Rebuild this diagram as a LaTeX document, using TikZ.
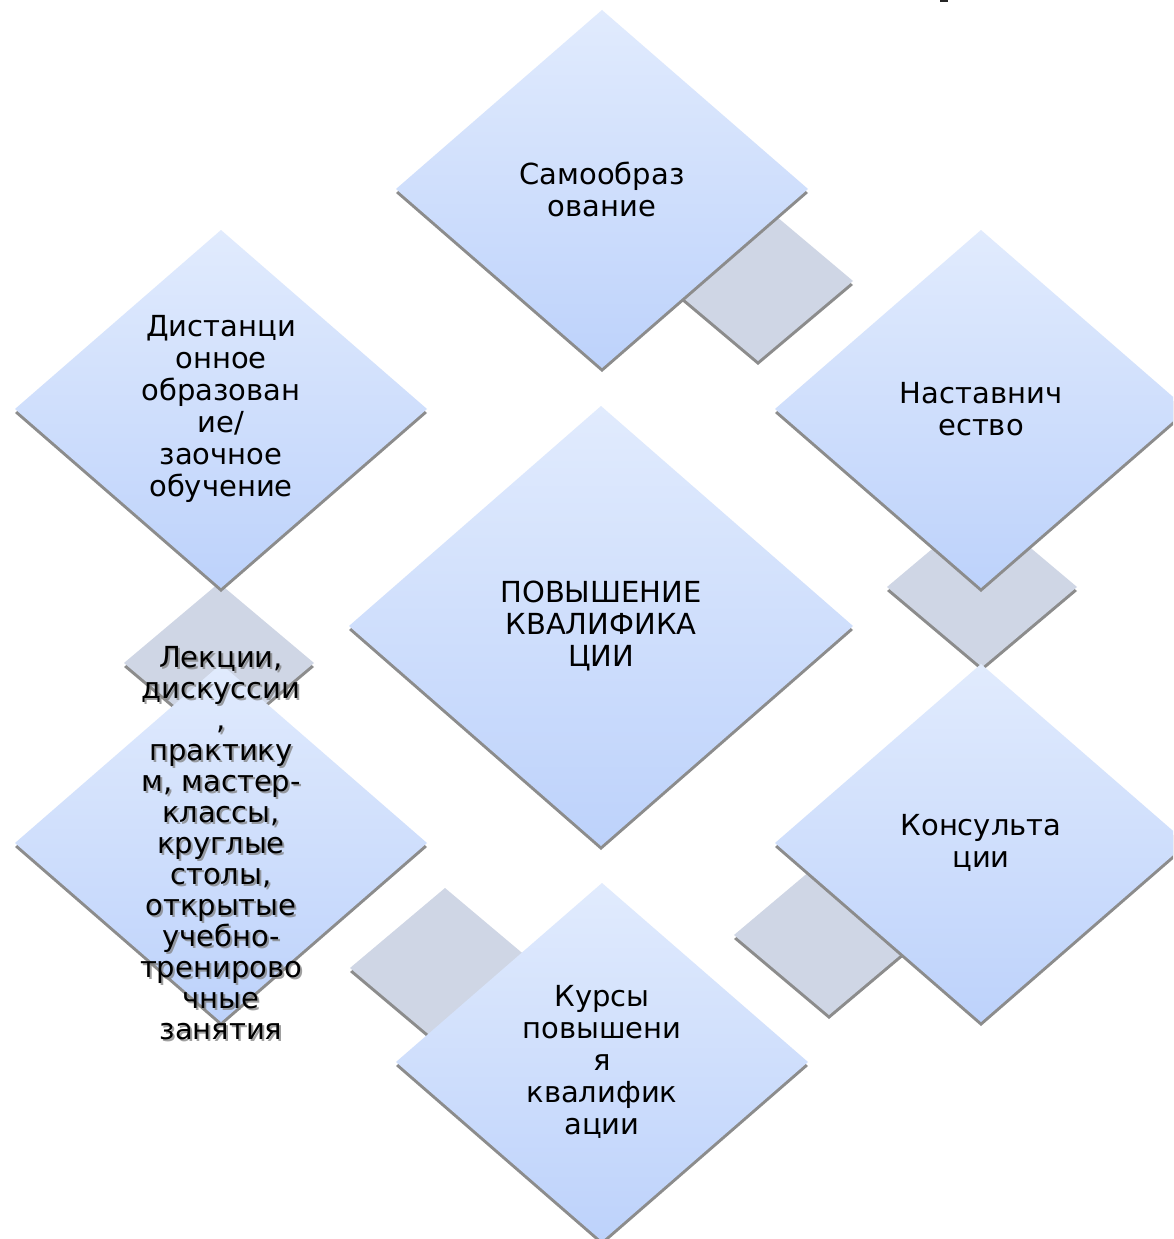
\documentclass[tikz,border=0pt]{standalone}
\usepackage{fontspec}
\setmainfont{DejaVu Sans}
\definecolor{bluetop}{HTML}{E1EBFD}
\definecolor{bluebot}{HTML}{BDD2FB}
\definecolor{grayfill}{HTML}{CFD6E5}
\definecolor{shadowc}{HTML}{8C8C8C}
\tikzset{
  lbl/.style={align=center, inner sep=0pt, font=\fontsize{29}{32}\selectfont, text=black},
  lbltight/.style={lbl, font=\fontsize{29}{31}\selectfont},
  lblshadow/.style={lbltight, text=black!50, opacity=0.75},
  bluefill/.style={top color=bluetop, bottom color=bluebot, draw=none},
  grayd/.style={fill=grayfill, draw=none},
  shad/.style={fill=shadowc, draw=none}
}
% #1 cx, #2 cy, #3 hw, #4 hh, #5 style
\newcommand{\diapath}[5]{%
  \path[shad] (#1-#3,#2+4) -- (#1,#2-#4+4) -- (#1+#3,#2+4) -- (#1,#2+#4+4) -- cycle;
  \path[#5] (#1-#3,#2) -- (#1,#2-#4) -- (#1+#3,#2) -- (#1,#2+#4) -- cycle;
}
\begin{document}
\begin{tikzpicture}[x=1pt,y=-1pt]
\useasboundingbox (0,0) rectangle (1173,1239);
\clip (0,0) rectangle (1173,1239);
\fill[white] (0,0) rectangle (1173,1239);
% gray connector diamonds
\diapath{758}{281}{95}{80}{grayd}
\diapath{982}{587}{95}{80}{grayd}
\diapath{829}{935}{95}{80}{grayd}
\diapath{445}{968}{95}{80}{grayd}
\diapath{219}{663}{95}{80}{grayd}
% blue diamonds
\diapath{602}{189}{206}{179}{bluefill}
\diapath{221}{409}{206}{179}{bluefill}
\diapath{981}{409}{206}{179}{bluefill}
\diapath{601}{626}{252}{220}{bluefill}
\diapath{221}{843}{206}{179}{bluefill}
\diapath{981}{843}{206}{179}{bluefill}
\diapath{602}{1062}{206}{179}{bluefill}
% tiny mark
\fill[black!85] (940,0) rectangle (948,2);
% labels
\node[lbl] (t) at (602,189) {Самообраз\\ование};
\node[lbl] (l) at (221,409) {Дистанци\\онное\\образован\\ие/\\заочное\\обучение};
\node[lbl] (r) at (981,409) {Наставнич\\ество};
\node[lbl] (c) at (601,626) {ПОВЫШЕНИЕ\\КВАЛИФИКА\\ЦИИ};
\node[lbl] (lr) at (981,843) {Консульта\\ции};
\node[lbl] (b) at (602,1062) {Курсы\\повышени\\я\\квалифик\\ации};
\node[lblshadow] (llsh) at (223,845) {Лекции,\\дискуссии\\,\\практику\\м, мастер-\\классы,\\круглые\\столы,\\открытые\\учебно-\\тренирово\\чные\\занятия};
\node[lbltight] (ll) at (221,843) {Лекции,\\дискуссии\\,\\практику\\м, мастер-\\классы,\\круглые\\столы,\\открытые\\учебно-\\тренирово\\чные\\занятия};
\end{tikzpicture}
\end{document}
